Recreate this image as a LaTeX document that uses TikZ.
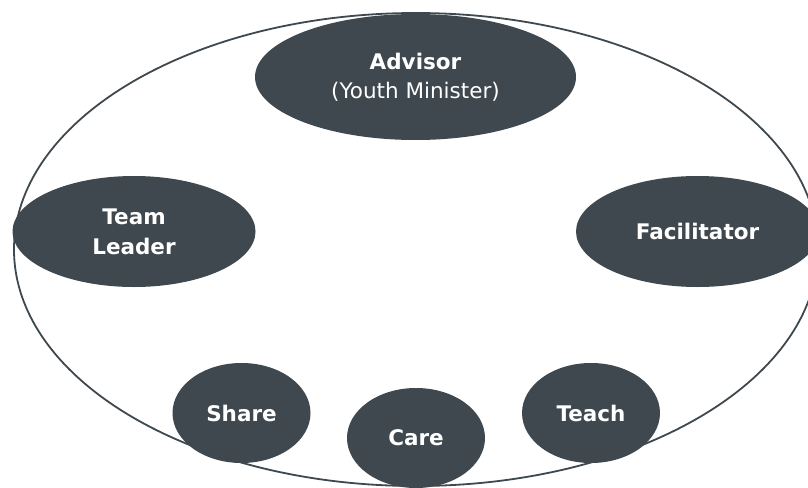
\documentclass[tikz,border=0pt]{standalone}
\usepackage{fontspec}
\setmainfont{DejaVu Sans}
\usetikzlibrary{shapes.geometric}
\definecolor{slate}{RGB}{62,72,78}
\begin{document}
\begin{tikzpicture}[x=1pt,y=-1pt,
  role/.style={ellipse, fill=slate, inner sep=0pt, text=white,
    align=center, font=\fontsize{21.5}{30}\selectfont\bfseries},
  ring/.style={ellipse, draw=slate, line width=1.8pt, inner sep=0pt}]
  \useasboundingbox (0,0) rectangle (808,487);
  % enclosing ring
  \node[ring, minimum width=804pt, minimum height=473pt] (circle) at (416,249.5) {};
  % roles
  \node[role, minimum width=321pt, minimum height=126pt] (advisor) at (415.5,77)
    {Advisor\\[-1pt]{\mdseries(Youth Minister)}};
  \node[role, minimum width=243pt, minimum height=111pt] (leader) at (134,231.5)
    {Team\\Leader};
  \node[role, minimum width=243pt, minimum height=111pt] (facil) at (697.5,231.5)
    {Facilitator};
  \node[role, minimum width=138pt, minimum height=100pt] (share) at (241.5,413)
    {Share};
  \node[role, minimum width=138pt, minimum height=100pt] (care) at (416,438)
    {Care};
  \node[role, minimum width=138pt, minimum height=100pt] (teach) at (591,413)
    {Teach};
\end{tikzpicture}
\end{document}
